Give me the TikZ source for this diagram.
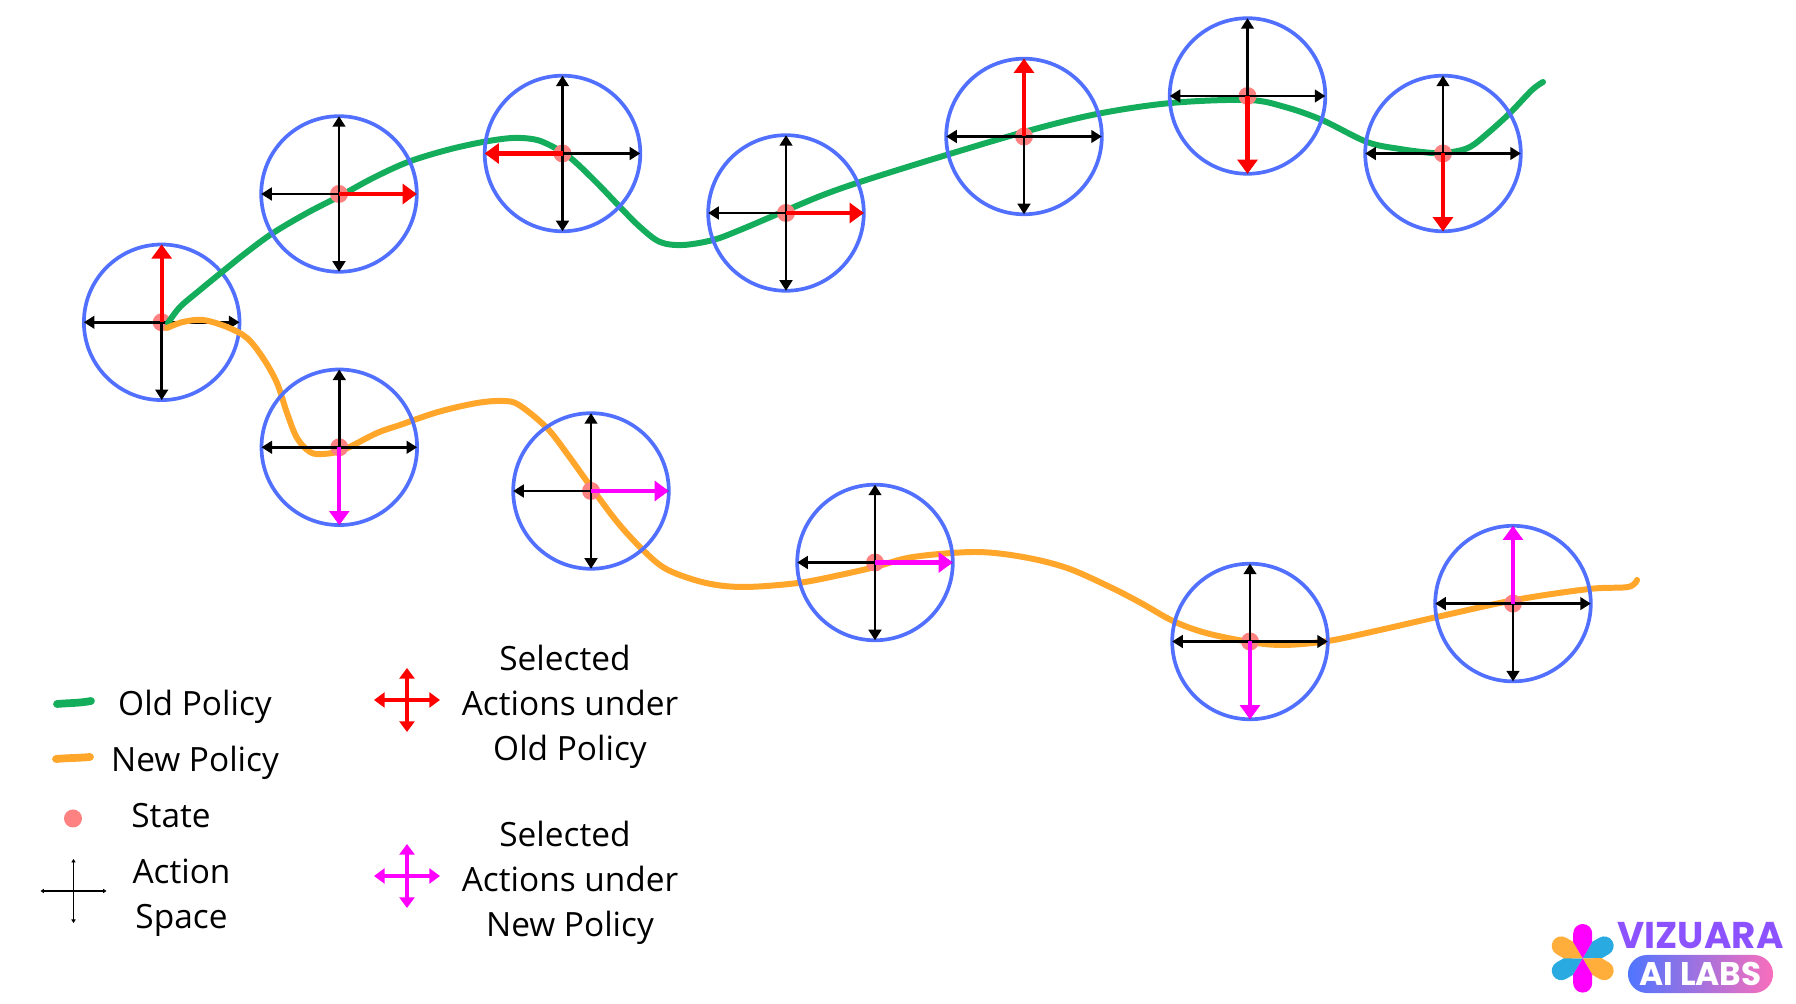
\documentclass[tikz,border=0pt]{standalone}
\usepackage{fontspec}
\setmainfont{Open Sans}
\newfontfamily\logofont{Poppins}
\usetikzlibrary{arrows.meta, positioning, shapes.geometric}

\definecolor{ringblue}{HTML}{5170FF}
\definecolor{oldgreen}{HTML}{14AD5C}
\definecolor{neworange}{HTML}{FFA62B}
\definecolor{statered}{HTML}{FF8282}
\definecolor{logopurple}{HTML}{8C52FF}
\definecolor{pillblue}{HTML}{4F75FF}
\definecolor{pillpink}{HTML}{F96EBB}
\definecolor{petalblue}{HTML}{29ABE2}
\definecolor{petalorange}{HTML}{FFAE3B}
\definecolor{selectpink}{HTML}{FF00FF}

\tikzset{
  actionring/.style={circle, draw=ringblue, line width=1.05pt, minimum size=1.555cm, inner sep=0pt, outer sep=0pt},
  statedot/.style={circle, fill=statered, minimum size=0.18cm, inner sep=0pt, outer sep=0pt},
  axisarrow/.style={line width=0.7pt, -{Triangle[length=3pt, width=3.6pt]}},
  redarrow/.style={red, line width=1.15pt, -{Triangle[length=4pt, width=5.6pt]}},
  pinkarrow/.style={selectpink, line width=1.15pt, -{Triangle[length=4pt, width=5.6pt]}},
  legendtip/.style={line width=0.9pt, -{Triangle[length=3pt, width=4.2pt]}},
  thinarrow/.style={line width=0.3pt, -{Triangle[length=1pt, width=1.2pt]}},
  policy/.style={line width=1.7pt, line cap=round, line join=round},
  swatch/.style={line width=2.2pt, line cap=round},
  legendtext/.style={font=\fontsize{9.5}{12.8}\selectfont, align=center, inner sep=0pt},
  crossbox/.style={minimum width=0.66cm, minimum height=0.64cm, inner sep=0pt, outer sep=0pt}
}

% one state: ring, dot, four actions, one of them selected
\newcommand{\actionstate}[5]{
  \node[actionring] (#1) at (#2,#3) {};
  \node[statedot] (#1dot) at (#1.center) {};
  \foreach \side in {north,south,east,west} {
    \draw[axisarrow] (#1.center) -- (#1.\side);
  }
  \draw[#5] (#1.center) -- (#1.#4);
}
\newcommand{\flowerpetal}[2]{
  \fill[#2, rotate around={#1:(1582.7,958.3)}] (1582.7,958.3) -- (1573.2,942) -- (1573.2,933.5) arc (180:360:9.5) -- (1592.2,942) -- cycle;
}

\begin{document}
\begin{tikzpicture}[x=0.01cm, y=-0.01cm]
  \useasboundingbox (0,0) rectangle (1796,1004);
  % First state lies under the two policies
  \actionstate{start}{161.7}{322.3}{north}{redarrow}
  % Old policy
  \draw[policy, oldgreen] plot[smooth, tension=0.55] coordinates {
    (168,323) (180,307) (200,290) (222,272) (247,252) (273,233) (307,213) (340,196)
    (373,178) (408,162) (447,150) (483,142) (513,138) (537,140) (557,149) (573,160) (597,183) (620,207)
    (640,227) (660,242) (683,245) (713,240) (740,230) (787,210) (823,195) (860,182)
    (930,160) (1024,132) (1097,114) (1171,103) (1248,100) (1285,107) (1322,120)
    (1367,142) (1400,149) (1433,153) (1452,152) (1470,147) (1488,133) (1510,113) (1532,90) (1543,82)};
  % New policy
  \draw[policy, neworange] plot[smooth, tension=0.55] coordinates {
    (167,328) (183,322) (203,320) (227,327) (247,338) (263,358) (277,383) (287,413)
    (297,438) (310,452) (323,454) (343,450) (377,433) (400,425) (438,412) (477,403)
    (503,401) (519,405) (547,428) (568,455) (591,487) (618,523) (645,552) (668,570)
    (706,583) (744,587) (798,583) (840,575) (875,567) (913,557) (975,552)
    (1023,557) (1067,568) (1110,587) (1141,603) (1173,621) (1206,633) (1250,642)
    (1284,645) (1328,641) (1380,630) (1437,617) (1515,600) (1589,589) (1628,587) (1637,580)};
  % States along the old policy
  \actionstate{old2}{339}{194}{east}{redarrow}
  \actionstate{old3}{562.5}{153.5}{west}{redarrow}
  \actionstate{old4}{786}{213}{east}{redarrow}
  \actionstate{old5}{1024}{136.5}{north}{redarrow}
  \actionstate{old6}{1247.5}{96}{south}{redarrow}
  \actionstate{old7}{1443}{153.5}{south}{redarrow}
  % States along the new policy
  \actionstate{new2}{339.3}{447.3}{south}{pinkarrow}
  \actionstate{new3}{591}{491}{east}{pinkarrow}
  \actionstate{new4}{875}{562.5}{east}{pinkarrow}
  \actionstate{new5}{1250}{641.5}{south}{pinkarrow}
  \actionstate{new6}{1513}{603.6}{north}{pinkarrow}
  % Legend, left column
  \coordinate (oldA) at (57,704);
  \coordinate (oldB) at (91,701);
  \draw[swatch, oldgreen] (oldA) to[out=5, in=190] (oldB);
  \node[legendtext] (oldlabel) at (195,707) {Old Policy};
  \coordinate (newA) at (56,759);
  \coordinate (newB) at (90,757);
  \draw[swatch, neworange] (newA) to[out=5, in=185] (newB);
  \node[legendtext] (newlabel) at (195,763) {New Policy};
  \node[statedot] (statemark) at (73,818.5) {};
  \node[legendtext] (statelabel) at (171,816) {State};
  \node[crossbox] (spacemark) at (73.5,891) {};
  \foreach \side in {north,south,east,west} {
    \draw[thinarrow] (spacemark.center) -- (spacemark.\side);
  }
  \node[legendtext] (spacelabel) at (181.5,898) {Action\\Space};
  % Legend, right column
  \node[crossbox] (redmark) at (407,700) {};
  \node[crossbox] (pinkmark) at (407,876) {};
  \foreach \side in {north,south,east,west} {
    \draw[redarrow, legendtip] (redmark.center) -- (redmark.\side);
    \draw[pinkarrow, legendtip] (pinkmark.center) -- (pinkmark.\side);
  }
  \node[legendtext] (redlabel) at (570,707) {\hspace*{-0.1cm}Selected\\Actions under\\Old Policy};
  \node[legendtext] (pinklabel) at (570,882.5) {\hspace*{-0.1cm}Selected\\Actions under\\New Policy};
  % Logo
  \flowerpetal{-60}{petalblue}
  \flowerpetal{120}{petalblue}
  \flowerpetal{60}{petalorange}
  \flowerpetal{240}{petalorange}
  \flowerpetal{0}{selectpink}
  \flowerpetal{180}{selectpink}
  \node[font=\logofont\bfseries\fontsize{10.6}{12}\selectfont, text=logopurple, inner sep=0pt] (logoname) at (1700.5,936) {VIZUARA};
  \node[font=\logofont\bfseries\fontsize{9.3}{11}\selectfont, text=white, inner sep=0pt, rounded corners=0.19cm,
    minimum width=1.45cm, minimum height=0.38cm, left color=pillblue, right color=pillpink] (logopill) at (1700.5,974) {AI LABS};
\end{tikzpicture}
\end{document}
